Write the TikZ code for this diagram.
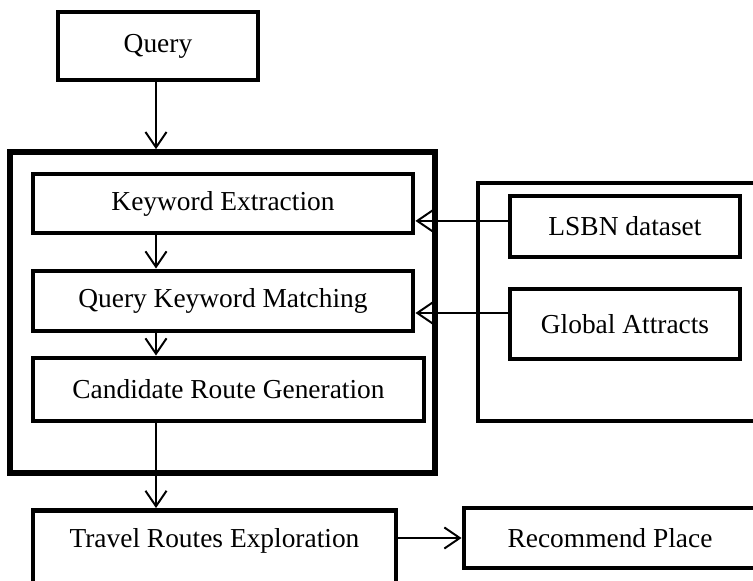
\documentclass[tikz,border=0pt]{standalone}
\usepackage{fontspec}
\setmainfont{Liberation Serif}
\usetikzlibrary{arrows.meta, positioning, calc}

\tikzset{
  stagebox/.style={draw=black, line width=3.5pt, fill=white, inner sep=0pt,
    font=\fontsize{19.5pt}{23pt}\selectfont},
  groupbox/.style={draw=black, inner sep=0pt},
  flow/.style={-{Straight Barb[length=11pt, width=15pt, line width=1.4pt]}, line width=1.4pt}
}

\begin{document}
\begin{tikzpicture}
  \useasboundingbox (0,0) rectangle (18.825,14.525);
  \fill[white] (0,0) rectangle (18.825,14.525);
  \coordinate (spine) at (3.9,0);

  % input
  \node[stagebox, minimum width=5cm, minimum height=1.7cm] (query) at (3.95,13.375) {Query};

  % processing block
  \node[groupbox, line width=4pt, minimum width=10.625cm, minimum height=8.025cm] (pipe) at (5.5625,6.7125) {};
  \node[stagebox, minimum width=9.5cm, minimum height=1.475cm] (kwx) at (5.575,9.4375) {Keyword Extraction};
  \node[stagebox, minimum width=9.5cm, minimum height=1.5cm] (match) at (5.575,7.0) {Query Keyword Matching};
  \node[stagebox, minimum width=9.775cm, minimum height=1.575cm] (cand) at (5.7125,4.7875) {Candidate Route Generation};

  % data sources
  \node[groupbox, line width=2.8pt, minimum width=7.3cm, minimum height=5.95cm] (sources) at (15.6,6.975) {};
  \node[stagebox, minimum width=5.75cm, minimum height=1.525cm] (lsbn) at (15.625,8.8625) {LSBN dataset};
  \node[stagebox, minimum width=5.75cm, minimum height=1.75cm] (global) at (15.625,6.425) {Global Attracts};

  % output
  \node[stagebox, anchor=north, minimum width=9.075cm, text height=0.925cm, text depth=1.25cm] (travel) at (5.3625,1.825) {Travel Routes Exploration};
  \node[stagebox, minimum width=7.3cm, minimum height=1.5cm] (rec) at (15.25,1.075) {Recommend Place};

  \draw[flow] (query.south -| spine) -- (pipe.north -| spine);
  \draw[flow] (kwx.south -| spine) -- (match.north -| spine);
  \draw[flow] (match.south -| spine) -- (cand.north -| spine);
  \draw[flow] (cand.south -| spine) -- (travel.north -| spine);
  \draw[flow] ([yshift=0.14cm]lsbn.west) -- ([yshift=0.14cm]lsbn.west -| kwx.east);
  \draw[flow] ([yshift=0.275cm]global.west) -- ([yshift=0.275cm]global.west -| match.east);
  \draw[flow] (rec.west -| travel.east) -- (rec.west);
\end{tikzpicture}
\end{document}
